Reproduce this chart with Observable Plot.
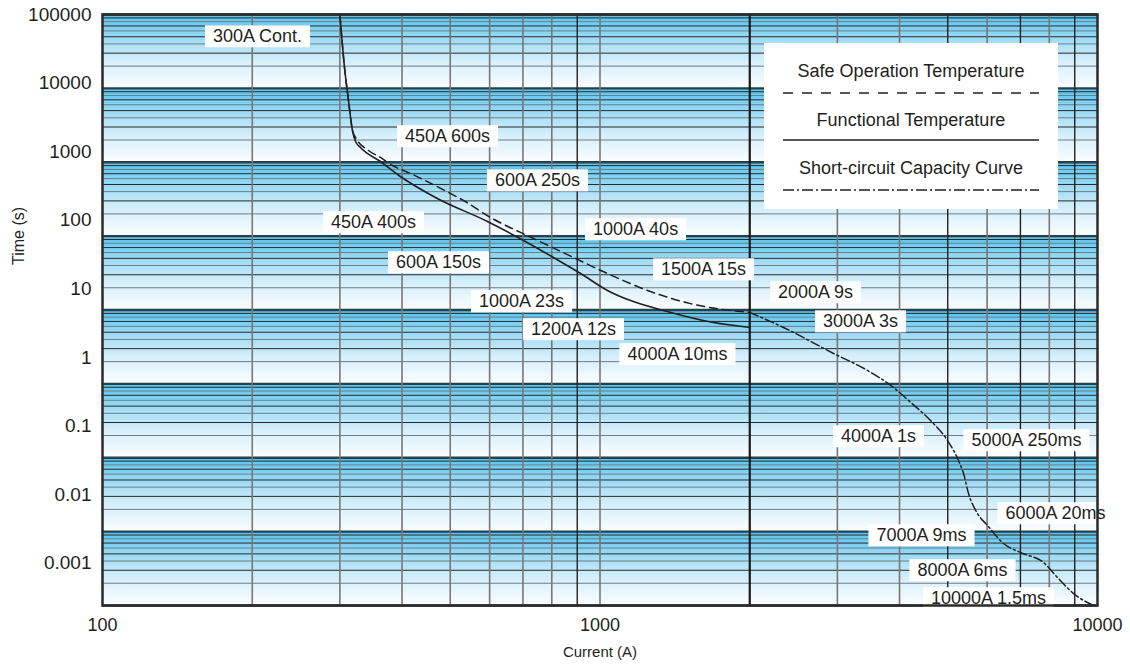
<!DOCTYPE html>
<html>
<head>
<meta charset="utf-8">
<script src="https://cdn.jsdelivr.net/npm/d3@7"></script>
<script src="https://cdn.jsdelivr.net/npm/@observablehq/plot@0.6"></script>
<style>
  body { margin: 0; background: #fff; font-family: "Liberation Sans", Arial, sans-serif; }
  #wrap { position: relative; width: 1130px; height: 666px; }
  #wrap > svg { position: absolute; left: 0; top: 0; }
  #legend { position: absolute; left: 764px; top: 43px; width: 294px; height: 166px; background: #fff; }
  #legend .lt { position: absolute; left: 0; width: 294px; text-align: center; font-size: 18px; line-height: 24px; color: #231f20; }
  #legend svg { position: absolute; left: 19px; }
</style>
</head>
<body>
<div id="wrap">
  <div id="legend">
    <div class="lt" style="top:16px">Safe Operation Temperature</div>
    <svg style="top:48px" width="256" height="4"><line x1="0" y1="2" x2="256" y2="2" stroke="#231f20" stroke-width="1.6" stroke-dasharray="10,9"></line></svg>
    <div class="lt" style="top:65px">Functional Temperature</div>
    <svg style="top:95px" width="256" height="4"><line x1="0" y1="2" x2="256" y2="2" stroke="#231f20" stroke-width="1.6"></line></svg>
    <div class="lt" style="top:113px">Short-circuit Capacity Curve</div>
    <svg style="top:145px" width="256" height="4"><line x1="0" y1="2" x2="256" y2="2" stroke="#231f20" stroke-width="1.6" stroke-dasharray="11,3,2,3"></line></svg>
  </div>
</div>
<script>
// ---------- data ----------
const currentTicks = [100, 1000, 10000];
const timeTicks = [100000, 10000, 1000, 100, 10, 1, 0.1, 0.01, 0.001];
const decadeLines = [0.001, 0.01, 0.1, 1, 10, 100, 1000, 10000, 100000];
const minorDark = [3, 5, 7, 9];
const minorLight = [2, 4, 6, 8];
const xGridGray = [200, 300, 400, 500, 600, 700, 800, 1000, 3000, 4000, 6000, 8000];
const xGridDark = [900, 5000, 7000, 9000];
const xGridHeavy = [2000];

// Functional Temperature (solid)
const functionalCurrent = [300, 306.5, 312.2, 318, 322.6, 330, 362, 397, 471, 594, 702, 806, 914, 1035, 1152, 1341, 1691, 2000];
const functionalTime    = [100000, 19170, 6855, 2690, 1910, 1584, 1023, 641, 323, 158, 87.3, 51.4, 31.2, 18.4, 13.4, 9.85, 6.77, 5.8];

// Safe Operation Temperature (dashed)
const safeCurrent = [300, 306.5, 312.2, 318, 322.6, 342.5, 362, 382.8, 416, 500.6, 531.6, 602.5, 735, 884.5, 1035, 1246, 1520, 2000];
const safeTime    = [100000, 19170, 6855, 2690, 2163, 1443, 1160, 903, 704, 377.6, 303.5, 178.7, 92.9, 51.4, 31.2, 18.4, 12.2, 9.25];

// Short-circuit Capacity Curve (dash-dot)
const shortCurrent = [2000, 2338, 2947, 3449, 3890, 4170, 4617, 4995, 5255, 5379, 5505, 5739, 6011, 6473, 7002, 7789, 8310, 8950, 9817];
const shortTime    = [9.25, 5.8, 2.58, 1.52, 0.893, 0.596, 0.319, 0.1714, 0.0918, 0.0612, 0.0328, 0.0176, 0.0121, 0.0069, 0.00521, 0.00382, 0.00239, 0.00145, 0.001];

// Annotations
const annoLabels  = ["300A Cont.", "450A 600s", "600A 250s", "450A 400s", "1000A 40s", "600A 150s", "1500A 15s", "1000A 23s", "1200A 12s", "4000A 10ms", "2000A 9s", "3000A 3s", "4000A 1s", "5000A 250ms", "6000A 20ms", "7000A 9ms", "8000A 6ms", "10000A 1.5ms"];
const annoCurrent = [204.9, 493.8, 748.6, 350.5, 1179, 473.6, 1615, 695.5, 884.5, 1431, 2712, 3339, 3629, 7198, 8234, 4428, 5353, 6039];
const annoTime    = [50380, 2232, 566, 152.9, 123, 43.95, 35.3, 13.03, 5.45, 2.5, 17.26, 6.98, 0.194, 0.1713, 0.0176, 0.00886, 0.00298, 0.001245];

// Axis label placement domain (the reference's tick labels are spaced tighter than its grid)
const timeLabelDomain = [2.43e-4, 100000];

// ---------- build ----------
const W = 1130, H = 666;
const M = {marginTop: 14, marginRight: 33, marginBottom: 61, marginLeft: 102};
const ink = "#231f20";
const font = "Liberation Sans, Arial, sans-serif";

const toPts = (xs, ys) => xs.map((x, i) => ({x, y: ys[i]}));
const functional = toPts(functionalCurrent, functionalTime);
const safe = toPts(safeCurrent, safeTime);
const shortc = toPts(shortCurrent, shortTime);
const annos = annoLabels.map((t, i) => ({t, x: annoCurrent[i], y: annoTime[i]}));
const bands = decadeLines.slice(0, -1);
const minorDarkY = bands.flatMap(d => minorDark.map(m => m * d));
const minorLightY = bands.flatMap(d => minorLight.map(m => m * d));

const main = Plot.plot({
  width: W, height: H, ...M,
  style: {fontFamily: font, background: "transparent", color: ink},
  x: {type: "log", domain: [100, 10000]},
  y: {type: "log", domain: [0.001, 100000], axis: null},
  marks: [
    Plot.rect(bands, {y1: d => d, y2: d => d * 10, fill: "url(#bandGrad)"}),
    Plot.ruleY(minorLightY, {stroke: "#6e7d86", strokeWidth: 1}),
    Plot.ruleY(minorDarkY, {stroke: "#2a2a2a", strokeWidth: 1}),
    Plot.ruleY(decadeLines, {stroke: "#26404c", strokeWidth: 2.4}),
    Plot.ruleX(xGridGray, {stroke: "#777", strokeWidth: 1.6}),
    Plot.ruleX(xGridDark, {stroke: "#222", strokeWidth: 1.4}),
    Plot.ruleX(xGridHeavy, {stroke: "#1a1a1a", strokeWidth: 2.2}),
    Plot.line(functional, {x: "x", y: "y", stroke: ink, strokeWidth: 1.6, curve: "monotone-x"}),
    Plot.line(safe, {x: "x", y: "y", stroke: ink, strokeWidth: 1.5, strokeDasharray: "8,5", curve: "monotone-x"}),
    Plot.line(shortc, {x: "x", y: "y", stroke: ink, strokeWidth: 1.5, strokeDasharray: "9,3,2,3", curve: "monotone-x"}),
    Plot.text(annos, {x: "x", y: "y", text: "t", fontSize: 18, fill: ink, className: "anno"}),
    Plot.frame({stroke: "#2a2a2a", strokeWidth: 2.5}),
    Plot.axisX(currentTicks, {tickSize: 0, tickPadding: 13, fontSize: 18, tickFormat: d => String(d), label: null}),
    Plot.text(["Current (A)"], {frameAnchor: "bottom", dy: 51, fontSize: 15, fill: ink})
  ]
});

const axisPlot = Plot.plot({
  width: W, height: H, ...M,
  style: {fontFamily: font, background: "transparent", color: ink},
  x: {type: "log", domain: [100, 10000], axis: null},
  y: {type: "log", domain: timeLabelDomain},
  marks: [
    Plot.axisY(timeTicks, {tickSize: 0, tickPadding: 11, fontSize: 19, tickFormat: d => String(d), label: null}),
    Plot.text(["Time (s)"], {frameAnchor: "left", dx: -84, dy: -45, rotate: -90, fontSize: 16, fill: ink})
  ]
});

const wrap = document.getElementById("wrap");
wrap.insertBefore(axisPlot, wrap.firstChild);
wrap.insertBefore(main, wrap.firstChild);

// gradient definition for the decade bands
const ns = "http://www.w3.org/2000/svg";
const defs = document.createElementNS(ns, "defs");
defs.innerHTML = `<linearGradient id="bandGrad" x1="0" y1="0" x2="0" y2="1">
  <stop offset="0" stop-color="#52c4f0"/>
  <stop offset="0.3" stop-color="#97d9f5"/>
  <stop offset="0.62" stop-color="#d3eefa"/>
  <stop offset="1" stop-color="#fbfdff"/>
</linearGradient>`;
main.insertBefore(defs, main.firstChild);

// white boxes behind annotations
let annoTexts = main.querySelectorAll("g.anno text");
if (!annoTexts.length) {
  const gs = [...main.querySelectorAll('g[aria-label="text"]')];
  annoTexts = gs.length ? gs[0].querySelectorAll("text") : [];
}
annoTexts.forEach(t => {
  const b = t.getBBox();
  const r = document.createElementNS(ns, "rect");
  r.setAttribute("x", b.x - 8);
  r.setAttribute("y", b.y - 1);
  r.setAttribute("width", b.width + 16);
  r.setAttribute("height", b.height + 2);
  r.setAttribute("fill", "#fff");
  const tr = t.getAttribute("transform");
  if (tr) r.setAttribute("transform", tr);
  t.parentNode.insertBefore(r, t);
});
</script>
</body>
</html>
